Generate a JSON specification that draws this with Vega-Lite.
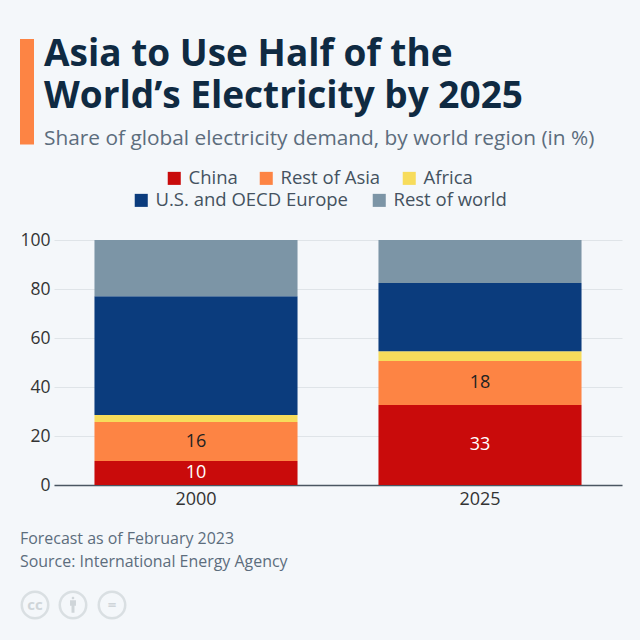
{"$schema":"https://vega.github.io/schema/vega-lite/v6.json","width":568,"height":245,"autosize":{"type":"none"},"padding":{"left":54,"top":240,"right":18,"bottom":155},"background":"#f4f7fa","config":{"view":{"stroke":null},"font":"Open Sans"},
"title":{"text":["Asia to Use Half of the","World’s Electricity by 2025"],"subtitle":"Share of global electricity demand, by world region (in %)","anchor":"start","frame":"group","dx":-10,"offset":-111,"font":"Open Sans","fontSize":37,"fontWeight":"bold","color":"#0f2a42","lineHeight":42,"subtitleFont":"Open Sans","subtitleFontSize":20.85,"subtitleColor":"#5c6d7d","subtitleFontWeight":"normal","subtitlePadding":13},
"datasets":{"bars":[{"year":"2000","region":"China","share":9.8,"ord":1,"label":"10","tc":"light"},{"year":"2000","region":"Rest of Asia","share":15.9,"ord":2,"label":"16","tc":"dark"},{"year":"2000","region":"Africa","share":2.9,"ord":3},{"year":"2000","region":"U.S. and OECD Europe","share":48.4,"ord":4},{"year":"2000","region":"Rest of world","share":23,"ord":5},{"year":"2025","region":"China","share":32.7,"ord":1,"label":"33","tc":"light"},{"year":"2025","region":"Rest of Asia","share":17.9,"ord":2,"label":"18","tc":"dark"},{"year":"2025","region":"Africa","share":4,"ord":3},{"year":"2025","region":"U.S. and OECD Europe","share":27.8,"ord":4},{"year":"2025","region":"Rest of world","share":17.6,"ord":5}],
"accent":[{"x0":-34,"x1":-20,"y0":139,"y1":182}],
"notes":[{"x":-34,"y":-22,"t":"Forecast as of February 2023"},{"x":-34,"y":-31.4,"t":"Source: International Energy Agency"}],
"icons":[{"x":-19,"y":-49,"g":"cc"},{"x":19,"y":-49,"g":""},{"x":58,"y":-49,"g":"="}],
"person":[{"x":19,"y":-49}]},
"resolve":{"scale":{"x":"independent","color":"independent"}},
"layer":[
{"data":{"name":"bars"},"transform":[{"stack":"share","groupby":["year"],"sort":[{"field":"ord","order":"ascending"}],"as":["y0","y1"]}],
"resolve":{"scale":{"color":"independent"}},
"layer":[
{"transform":[{"filter":"datum.ord<=3"}],"mark":{"type":"bar"},"encoding":{
"x":{"field":"year","type":"nominal","scale":{"paddingInner":0.285,"paddingOuter":0.1425},"axis":{"title":null,"labelAngle":0,"labelFontSize":18,"labelColor":"#333","ticks":false,"domainColor":"#4a5662","domainWidth":1.5,"labelPadding":5}},
"y":{"field":"y0","type":"quantitative","scale":{"domain":[0,100],"nice":false},"axis":{"title":null,"values":[0,20,40,60,80,100],"labelFontSize":17.5,"labelColor":"#333","ticks":false,"domain":false,"labelPadding":4,"gridColor":"#dfe4e8"}},
"y2":{"field":"y1"},
"color":{"field":"region","type":"nominal","sort":["China","Rest of Asia","Africa"],"scale":{"domain":["China","Rest of Asia","Africa"],"range":["#c90b0b","#fd8444","#f7dc5b"]},"legend":{"title":null,"orient":"none","direction":"horizontal","legendX":111,"legendY":-71,"symbolType":"square","symbolSize":170,"symbolStrokeWidth":0,"labelFontSize":18.5,"labelColor":"#44525f","columnPadding":19,"labelLimit":300,"labelOffset":5}}}},
{"transform":[{"filter":"datum.ord>3"}],"mark":{"type":"bar"},"encoding":{
"x":{"field":"year","type":"nominal","scale":{"paddingInner":0.285,"paddingOuter":0.1425}},
"y":{"field":"y0","type":"quantitative"},"y2":{"field":"y1"},
"color":{"field":"region","type":"nominal","scale":{"domain":["U.S. and OECD Europe","Rest of world"],"range":["#0b3c7d","#7c95a6"]},"legend":{"title":null,"orient":"none","direction":"horizontal","legendX":78,"legendY":-49,"symbolType":"square","symbolSize":170,"symbolStrokeWidth":0,"labelFontSize":18.5,"labelColor":"#44525f","columnPadding":22,"labelLimit":300,"labelOffset":5}}}},
{"transform":[{"filter":"datum.label && datum.tc=='light'"},{"calculate":"(datum.y0+datum.y1)/2","as":"mid"}],"mark":{"type":"text","fontSize":18,"fontWeight":500,"color":"#ffffff"},"encoding":{"x":{"field":"year","type":"nominal","scale":{"paddingInner":0.285,"paddingOuter":0.1425}},"y":{"field":"mid","type":"quantitative"},"text":{"field":"label"}}},
{"transform":[{"filter":"datum.label && datum.tc=='dark'"},{"calculate":"(datum.y0+datum.y1)/2","as":"mid"}],"mark":{"type":"text","fontSize":18,"fontWeight":500,"color":"#222222"},"encoding":{"x":{"field":"year","type":"nominal","scale":{"paddingInner":0.285,"paddingOuter":0.1425}},"y":{"field":"mid","type":"quantitative"},"text":{"field":"label"}}}
]},
{"data":{"name":"accent"},"mark":{"type":"rect","color":"#fd8444","clip":false},"encoding":{"x":{"field":"x0","type":"quantitative","scale":{"domain":[0,568],"nice":false,"zero":false},"axis":null},"x2":{"field":"x1"},"y":{"field":"y0","type":"quantitative"},"y2":{"field":"y1"}}},
{"data":{"name":"notes"},"mark":{"type":"text","align":"left","fontSize":15.95,"color":"#5c6d7d"},"encoding":{"x":{"field":"x","type":"quantitative","scale":{"domain":[0,568],"nice":false,"zero":false},"axis":null},"y":{"field":"y","type":"quantitative"},"text":{"field":"t"}}},
{"data":{"name":"icons"},"mark":{"type":"point","shape":"circle","size":700,"filled":false,"strokeWidth":2.5,"color":"#cfd5d9"},"encoding":{"x":{"field":"x","type":"quantitative","scale":{"domain":[0,568],"nice":false,"zero":false},"axis":null},"y":{"field":"y","type":"quantitative"}}},
{"data":{"name":"icons"},"mark":{"type":"text","fontSize":15,"fontWeight":"bold","color":"#cfd5d9"},"encoding":{"x":{"field":"x","type":"quantitative","scale":{"domain":[0,568],"nice":false,"zero":false},"axis":null},"y":{"field":"y","type":"quantitative"},"text":{"field":"g"}}},
{"data":{"name":"person"},"mark":{"type":"point","filled":true,"size":220,"color":"#cfd5d9","opacity":1,"shape":"M-0.18,-0.95a0.18,0.18 0 1,0 0.36,0a0.18,0.18 0 1,0 -0.36,0M-0.4,-0.65h0.8v0.75h-0.2v0.95h-0.4v-0.95h-0.2z"},"encoding":{"x":{"field":"x","type":"quantitative","scale":{"domain":[0,568],"nice":false,"zero":false},"axis":null},"y":{"field":"y","type":"quantitative"}}}
]}
